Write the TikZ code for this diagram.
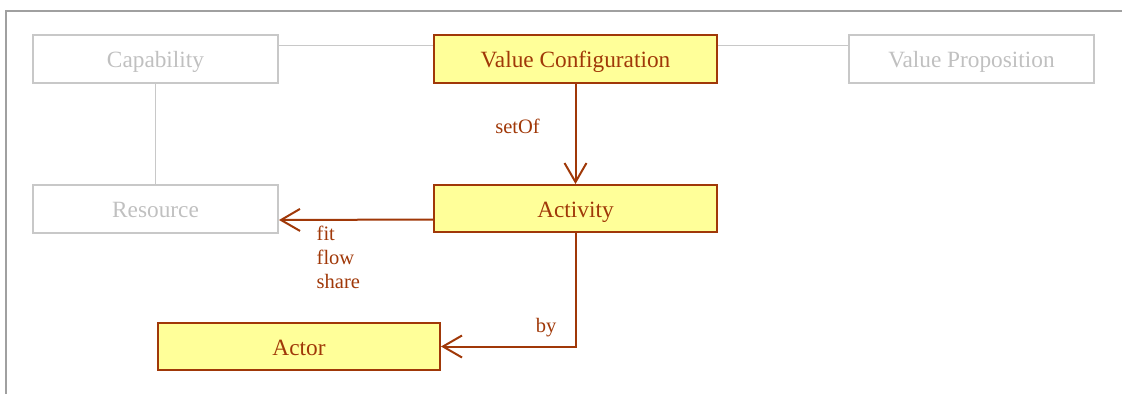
\documentclass[tikz,border=0pt]{standalone}
\usepackage{fontspec}
\setmainfont{Liberation Serif}
\usetikzlibrary{arrows.meta}
\definecolor{umlline}{RGB}{160,56,8}
\definecolor{umlfill}{RGB}{255,255,153}
\definecolor{ghostline}{RGB}{200,200,200}
\definecolor{ghosttext}{RGB}{192,192,192}
\definecolor{framegray}{RGB}{160,160,160}
\tikzset{
  box/.style={draw=umlline, fill=umlfill, line width=2pt, inner sep=0pt,
    text=umlline, font=\fontsize{23.3}{27}\selectfont, text height=17pt, text depth=0pt},
  ghost/.style={draw=ghostline, line width=2pt, inner sep=0pt,
    text=ghosttext, font=\fontsize{23.3}{27}\selectfont, text height=17pt, text depth=0pt},
  ghostlink/.style={draw=ghostline, line width=1.8pt},
  link/.style={draw=umlline, line width=2pt},
  arr/.style={link, -{Straight Barb[length=19pt,width=22pt,line width=2pt]}},
  lbl/.style={text=umlline, font=\fontsize{20.5}{24}\selectfont, inner sep=0pt}
}
\begin{document}
\begin{tikzpicture}[x=1pt,y=-1pt]
\useasboundingbox (0,0) rectangle (1122,394);
\draw[framegray, line width=1.8pt] (6,394) -- (6,11) -- (1122,11);

\node[ghost, minimum width=245pt, minimum height=48pt] (cap) at (155.5,59) {Capability};
\node[box, minimum width=283pt, minimum height=48pt] (vc) at (575.5,59) {Value Configuration};
\node[ghost, minimum width=245pt, minimum height=48pt] (vp) at (971.5,59) {Value Proposition};
\node[ghost, minimum width=245pt, minimum height=48pt] (res) at (155.5,209) {Resource};
\node[box, minimum width=283pt, minimum height=47pt] (act) at (575.5,208.5) {Activity};
\node[box, minimum width=282pt, minimum height=47pt] (actor) at (299,346.5) {Actor};

\draw[ghostlink] ([yshift=13.5pt]cap.east) -- ([yshift=13.5pt]vc.west);
\draw[ghostlink] ([yshift=13.5pt]vc.east) -- ([yshift=13.5pt]vp.west);
\draw[ghostlink] (cap.south) -- (res.north);

\draw[arr] (vc.south) -- (act.north);
\draw[arr] ([yshift=-11pt]act.west) -- ([yshift=-11pt]res.east);
\draw[arr] (act.south) |- (actor.east);

\node[lbl, anchor=base] (setof) at (517.5,133) {setOf};
\node[lbl, anchor=base west] (fit) at (316.5,240) {fit};
\node[lbl, anchor=base west] (flow) at (316.5,264) {flow};
\node[lbl, anchor=base west] (share) at (316.5,288) {share};
\node[lbl, anchor=base] (by) at (546,332) {by};
\end{tikzpicture}
\end{document}
